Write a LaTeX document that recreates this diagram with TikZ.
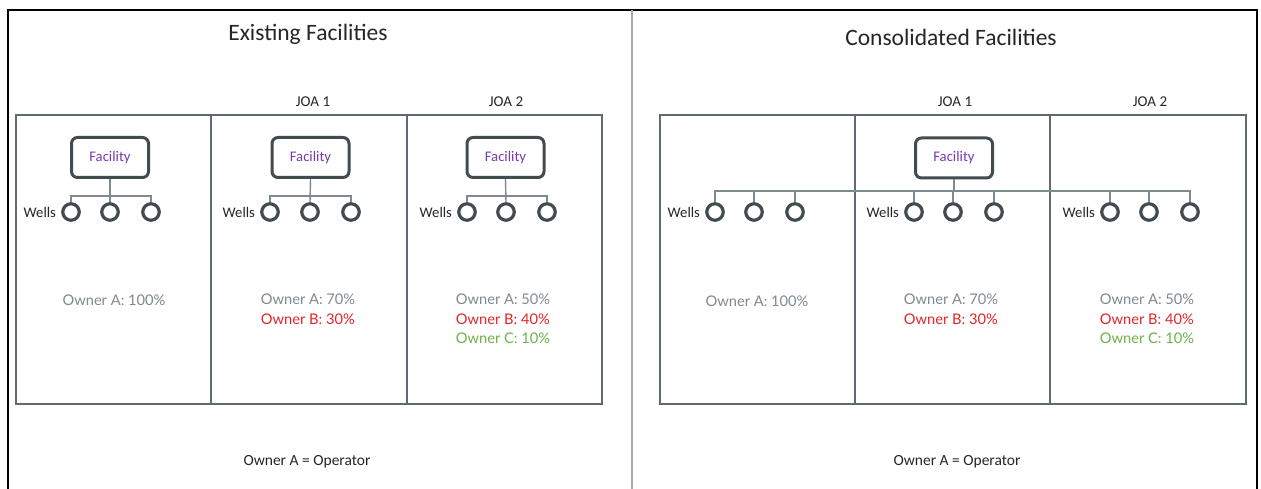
\documentclass[tikz,border=0pt]{standalone}
\usepackage{fontspec}
\setmainfont{Carlito}
\newfontfamily\lato{Lato}
\definecolor{framegray}{HTML}{5F6B70}
\definecolor{darkgray}{HTML}{414B50}
\definecolor{conngray}{HTML}{7F8A8E}
\definecolor{ownA}{HTML}{7F8A90}
\definecolor{ownB}{HTML}{E0262B}
\definecolor{ownC}{HTML}{6FB24A}
\definecolor{facpurple}{HTML}{7A3AB0}
\definecolor{divgray}{HTML}{A3A9AD}
\tikzset{
  panelbox/.style={draw=framegray, line width=2pt},
  facbox/.style={draw=darkgray, line width=3pt, rounded corners=6pt, minimum width=77pt, minimum height=40pt, inner sep=0pt, text=facpurple, font=\fontsize{14.67}{17}\selectfont},
  well/.style={circle, draw=darkgray, line width=3.2pt, minimum size=16.5pt, inner sep=0pt},
  conn/.style={draw=conngray, line width=1.4pt},
  wlabel/.style={font=\fontsize{14.67}{17}\selectfont, text=black!85, inner sep=0pt, anchor=east},
  joalabel/.style={font=\fontsize{15}{17}\selectfont, text=black!85, inner sep=0pt},
  titlelabel/.style={font=\fontsize{23.5}{27}\selectfont, text=black!85, inner sep=0pt},
  ownerlabel/.style={font=\lato\fontsize{14.67}{19.5}\selectfont, inner sep=0pt, align=left},
  oplabel/.style={font=\fontsize{15.5}{18}\selectfont, text=black!85, inner sep=0pt}
}
\begin{document}
\begin{tikzpicture}[x=1pt, y=-1pt]
\useasboundingbox (0,0) rectangle (1261,489);
\fill[white] (0,0) rectangle (1261,489);
% outer frame
\draw[black, line width=2pt] (8,489) -- (8,10) -- (1257,10) -- (1257,489);
\draw[divgray, line width=1.5pt] (632,10) -- (632,489);

% titles
\node[titlelabel] (t1) at (308,34) {Existing Facilities};
\node[titlelabel] (t2) at (951,37) {Consolidated Facilities};
\node[joalabel] (j11) at (313,102) {JOA 1};
\node[joalabel] (j12) at (506,102) {JOA 2};
\node[joalabel] (j21) at (955,102) {JOA 1};
\node[joalabel] (j22) at (1150,102) {JOA 2};

% panel boxes
\draw[panelbox] (16,115) rectangle (602,404);
\draw[panelbox] (211,115) -- (211,404);
\draw[panelbox] (407,115) -- (407,404);
\draw[panelbox] (660,115) rectangle (1246,404);
\draw[panelbox] (855,115) -- (855,404);
\draw[panelbox] (1050,115) -- (1050,404);

% ---------- Existing facilities ----------
% panel 1
\node[facbox] (f1) at (110,157.5) {Facility};
\node[well] (w11) at (71,212) {};
\node[well] (w12) at (110,212) {};
\node[well] (w13) at (151,212) {};
\node[wlabel] (l1) at ([xshift=-5pt]w11.west) {Wells};
\draw[conn] (f1.south) -- (w12.north);
\draw[conn] (w11.north) -- (w11.north |- 0,196) -- (w13.north |- 0,196) -- (w13.north);
% panel 2
\node[facbox] (f2) at (310.5,157.5) {Facility};
\node[well] (w21) at (270,212) {};
\node[well] (w22) at (310,212) {};
\node[well] (w23) at (351,212) {};
\node[wlabel] (l2) at ([xshift=-5pt]w21.west) {Wells};
\draw[conn] (f2.south) -- (w22.north);
\draw[conn] (w21.north) -- (w21.north |- 0,196) -- (w23.north |- 0,196) -- (w23.north);
% panel 3
\node[facbox] (f3) at (505.5,157.5) {Facility};
\node[well] (w31) at (467,212) {};
\node[well] (w32) at (506,212) {};
\node[well] (w33) at (547,212) {};
\node[wlabel] (l3) at ([xshift=-5pt]w31.west) {Wells};
\draw[conn] (f3.south) -- (w32.north);
\draw[conn] (w31.north) -- (w31.north |- 0,196) -- (w33.north |- 0,196) -- (w33.north);

% owners
\node[ownerlabel, text=ownA] (o1) at (114,300) {Owner A: 100\%};
\node[ownerlabel, anchor=north] (o2) at (308,294) {\textcolor{ownA}{Owner A: 70\%}\\\textcolor{ownB}{Owner B: 30\%}};
\node[ownerlabel, anchor=north] (o3) at (503,294) {\textcolor{ownA}{Owner A: 50\%}\\\textcolor{ownB}{Owner B: 40\%}\\\textcolor{ownC}{Owner C: 10\%}};
\node[oplabel] (op1) at (307,462) {Owner A = Operator};

% ---------- Consolidated facilities ----------
\node[facbox] (g) at (954,158) {Facility};
\node[well] (v1) at (715,212) {};
\node[well] (v2) at (754,212) {};
\node[well] (v3) at (795,212) {};
\node[well] (v4) at (914,212) {};
\node[well] (v5) at (953,212) {};
\node[well] (v6) at (994,212) {};
\node[well] (v7) at (1110,212) {};
\node[well] (v8) at (1149,212) {};
\node[well] (v9) at (1190,212) {};
\node[wlabel] (m1) at ([xshift=-5pt]v1.west) {Wells};
\node[wlabel] (m2) at ([xshift=-5pt]v4.west) {Wells};
\node[wlabel] (m3) at ([xshift=-5pt]v7.west) {Wells};
\coordinate (bar) at (0,191);
\draw[conn] (g.south) -- (g.south |- bar);
\draw[conn] (v1.north) -- (v1.north |- bar) -- (v9.north |- bar) -- (v9.north);
\foreach \w in {v2,v3,v4,v5,v6,v7,v8} {
  \draw[conn] (\w.north) -- (\w.north |- bar);
}
\node[ownerlabel, text=ownA] (p1) at (757,301) {Owner A: 100\%};
\node[ownerlabel, anchor=north] (p2) at (951,294) {\textcolor{ownA}{Owner A: 70\%}\\\textcolor{ownB}{Owner B: 30\%}};
\node[ownerlabel, anchor=north] (p3) at (1147,294) {\textcolor{ownA}{Owner A: 50\%}\\\textcolor{ownB}{Owner B: 40\%}\\\textcolor{ownC}{Owner C: 10\%}};
\node[oplabel] (op2) at (957,462) {Owner A = Operator};
\end{tikzpicture}
\end{document}
